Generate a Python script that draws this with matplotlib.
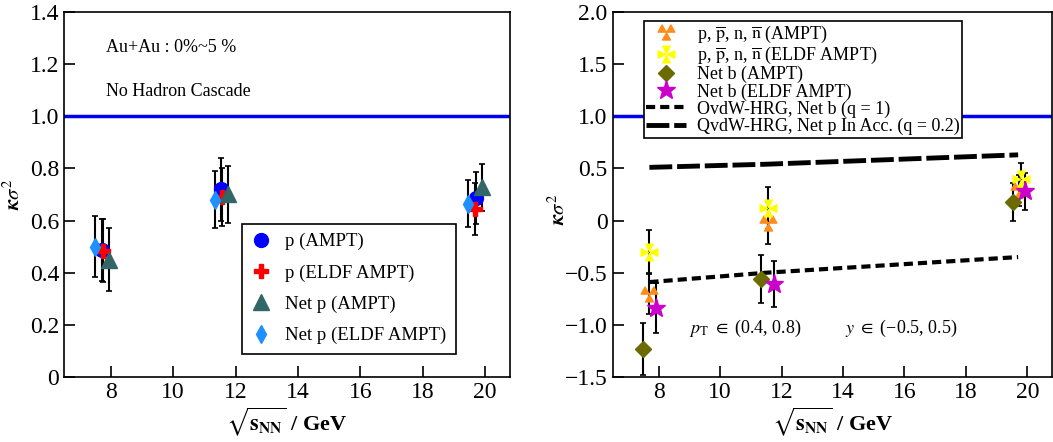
import numpy as np
import matplotlib
matplotlib.use('Agg')
import matplotlib.pyplot as plt
from matplotlib.path import Path

plt.rcParams['font.family'] = ['Liberation Serif', 'DejaVu Serif']
plt.rcParams['mathtext.fontset'] = 'stix'

# left panel: p / net p kappa sigma^2
x_p = [7.72, 11.53, 19.70]
y_p = [0.487, 0.72, 0.685]
e_p = [0.12, 0.12, 0.10]
x_p_eldf = [7.76, 11.57, 19.68]
y_p_eldf = [0.485, 0.69, 0.643]
e_p_eldf = [0.12, 0.11, 0.10]
x_np = [7.95, 11.75, 19.89]
y_np = [0.45, 0.70, 0.728]
e_np = [0.12, 0.11, 0.09]
x_np_eldf = [7.50, 11.34, 19.47]
y_np_eldf = [0.50, 0.68, 0.664]
e_np_eldf = [0.117, 0.11, 0.09]

# right panel: baryons / net baryon
x_b = [7.69, 11.56, 19.73]
y_b = [-0.70, -0.02, 0.29]
e_b = [0.20, 0.20, 0.15]
x_b_eldf = [7.69, 11.56, 19.79]
y_b_eldf = [-0.30, 0.12, 0.40]
e_b_eldf = [0.21, 0.20, 0.15]
x_nb = [7.50, 11.34, 19.54]
y_nb = [-1.23, -0.56, 0.18]
e_nb = [0.25, 0.23, 0.18]
x_nb_eldf = [7.91, 11.75, 19.93]
y_nb_eldf = [-0.84, -0.61, 0.28]
e_nb_eldf = [0.24, 0.22, 0.18]

x_hrg = [7.7, 11.5, 19.7]
y_ovdw = [-0.59, -0.50, -0.35]
y_qvdw = [0.51, 0.54, 0.63]

# custom markers: three triangles / four inward triangles
def tri(cx, cy, s):
    return [(cx - s, cy - s * 0.9), (cx + s, cy - s * 0.9), (cx, cy + s * 0.9), (cx - s, cy - s * 0.9)]

verts, codes = [], []
for cx, cy in [(-0.5, 0.45), (0.5, 0.45), (0.0, -0.45)]:
    verts += tri(cx, cy, 0.45)
    codes += [Path.MOVETO, Path.LINETO, Path.LINETO, Path.CLOSEPOLY]
tri3 = Path(verts, codes)

verts, codes = [], []
for ang in [0, 90, 180, 270]:
    a = np.deg2rad(ang)
    pts = [(0.0, 0.12), (-0.45, 1.0), (0.45, 1.0), (0.0, 0.12)]
    verts += [(px * np.cos(a) - py * np.sin(a), px * np.sin(a) + py * np.cos(a)) for px, py in pts]
    codes += [Path.MOVETO, Path.LINETO, Path.LINETO, Path.CLOSEPOLY]
cross4 = Path(verts, codes)

fig = plt.figure(figsize=(10.53, 4.42), dpi=100)
ax1 = fig.add_axes([0.0608, 0.147, 0.4235, 0.826])
ax2 = fig.add_axes([0.5817, 0.147, 0.4173, 0.826])

ekw = dict(fmt='none', ecolor='black', elinewidth=1.5, capsize=2, capthick=1.2, zorder=2)

def series(ax, x, y, e, marker, ms, color, label):
    ax.errorbar(x, y, yerr=e, **ekw)
    return ax.plot(x, y, ls='none', marker=marker, ms=ms, color=color, mec=color, label=label, zorder=3)[0]

ax1.axhline(1.0, color='#0000ee', lw=2.5)
h1 = [series(ax1, x_p, y_p, e_p, 'o', 10, '#0000ff', 'p (AMPT)'),
      series(ax1, x_p_eldf, y_p_eldf, e_p_eldf, 'P', 10, '#ff0000', 'p (ELDF AMPT)'),
      series(ax1, x_np, y_np, e_np, '^', 11, '#336666', 'Net p (AMPT)'),
      series(ax1, x_np_eldf, y_np_eldf, e_np_eldf, 'd', 9, '#1e90ff', 'Net p (ELDF AMPT)')]

ax1.set_xlim(6.5, 20.8)
ax1.set_ylim(0, 1.4)
ax1.set_xticks([8, 10, 12, 14, 16, 18, 20])
ax1.set_yticks([0, 0.2, 0.4, 0.6, 0.8, 1.0, 1.2, 1.4])
ax1.set_yticklabels(['0', '0.2', '0.4', '0.6', '0.8', '1.0', '1.2', '1.4'])
ax1.text(0.095, 0.89, 'Au+Au : 0%~5 %', transform=ax1.transAxes, fontsize=13)
ax1.text(0.095, 0.77, 'No Hadron Cascade', transform=ax1.transAxes, fontsize=13)
leg1 = ax1.legend(handles=h1, loc='lower right', bbox_to_anchor=(0.9, 0.038), fontsize=13.5,
                  frameon=True, fancybox=False, edgecolor='black', handletextpad=0.8,
                  labelspacing=0.75, borderpad=0.5, handlelength=1.0, framealpha=1)
leg1.get_frame().set_linewidth(1.2)

ax2.axhline(1.0, color='#0000ee', lw=2.5)
h2 = [series(ax2, x_b, y_b, e_b, tri3, 12, '#ff8c1a', r'p, $\overline{\rm p}$, n, $\overline{\rm n}$ (AMPT)'),
      series(ax2, x_b_eldf, y_b_eldf, e_b_eldf, cross4, 12, '#ffff00', r'p, $\overline{\rm p}$, n, $\overline{\rm n}$ (ELDF AMPT)'),
      series(ax2, x_nb, y_nb, e_nb, 'D', 8, '#6b6b00', 'Net b (AMPT)'),
      series(ax2, x_nb_eldf, y_nb_eldf, e_nb_eldf, '*', 14, '#cc00cc', 'Net b (ELDF AMPT)')]
h2.append(ax2.plot(x_hrg, y_ovdw, color='black', lw=3, dashes=(2.2, 1.2), label='OvdW-HRG, Net b (q = 1)')[0])
h2.append(ax2.plot(x_hrg, y_qvdw, color='black', lw=3.5, dashes=(4.7, 1.0), label='QvdW-HRG, Net p In Acc. (q = 0.2)')[0])

ax2.set_xlim(6.5, 20.8)
ax2.set_ylim(-1.5, 2.0)
ax2.set_xticks([8, 10, 12, 14, 16, 18, 20])
ax2.set_yticks([-1.5, -1.0, -0.5, 0, 0.5, 1.0, 1.5, 2.0])
ax2.set_yticklabels(['\u22121.5', '\u22121.0', '\u22120.5', '0', '0.5', '1.0', '1.5', '2.0'])
ax2.text(0.175, 0.12, r'$p_{\rm T}$ $\in$ (0.4, 0.8)', transform=ax2.transAxes, fontsize=13)
ax2.text(0.53, 0.12, '$y$ $\\in$ (\u22120.5, 0.5)', transform=ax2.transAxes, fontsize=13)
leg2 = ax2.legend(handles=h2, loc='upper left', bbox_to_anchor=(0.05, 1.0), fontsize=13,
                  frameon=True, fancybox=False, edgecolor='black', handletextpad=0.6,
                  labelspacing=0.0, borderpad=0.15, handlelength=2.2, framealpha=1)
leg2.get_frame().set_linewidth(1.2)

for ax in (ax1, ax2):
    ax.tick_params(direction='in', length=8, width=1.2, labelsize=17, top=False, right=False)
    for sp in ax.spines.values():
        sp.set_linewidth(1.2)
    ax.set_ylabel(r'$\boldsymbol{\kappa\sigma^2}$', fontsize=15)
    ax.set_xlabel(r'$\sqrt{\mathbf{s}_{\mathbf{NN}}}$ / GeV', fontsize=16, fontweight='bold', labelpad=2)
ax1.yaxis.set_label_coords(-0.088, 0.5)
ax2.yaxis.set_label_coords(-0.097, 0.46)

fig.savefig('out.png', dpi=100)
